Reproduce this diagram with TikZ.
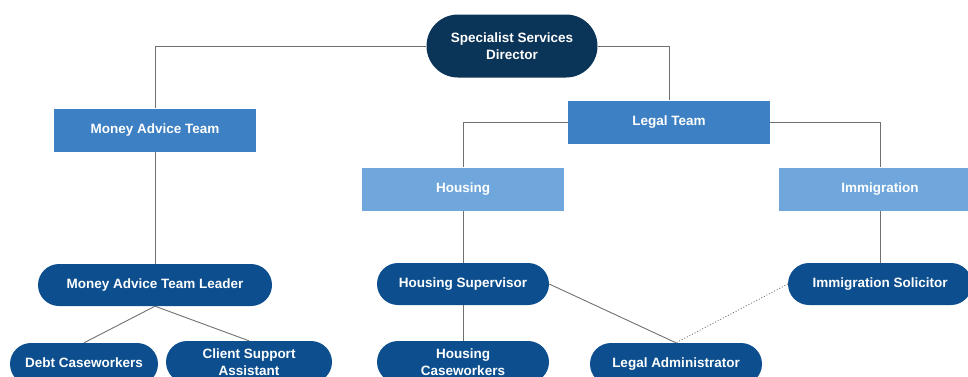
\documentclass[tikz,border=0pt]{standalone}
\usepackage{fontspec}
\setmainfont{Liberation Sans}
\usetikzlibrary{shapes.misc}
\definecolor{navy}{HTML}{0B3558}
\definecolor{pillblue}{HTML}{0D4F8E}
\definecolor{teamblue}{HTML}{3D80C3}
\definecolor{subblue}{HTML}{6FA7DC}
\definecolor{linegrey}{HTML}{707070}
\tikzset{
	boxtext/.style={text=white, font=\bfseries\fontsize{13.5}{16.5}\selectfont, align=center, inner sep=0pt},
	pill/.style={boxtext, rounded rectangle, fill=pillblue, minimum height=42pt},
	team/.style={boxtext, rectangle, fill=teamblue, minimum width=202pt, minimum height=43pt},
	sub/.style={boxtext, rectangle, fill=subblue, minimum width=202pt, minimum height=43pt},
	link/.style={draw=linegrey, line width=0.9pt}
}

\begin{document}
\begin{tikzpicture}[x=1pt, y=-1pt]
	%%%%% START %%%%%
	\useasboundingbox (0, 0) rectangle (968, 376);
	\clip (0, 0) rectangle (968, 376);
	
	\node[pill, fill=navy, minimum width=171pt, minimum height=63pt] (dir) at (512, 46) {Specialist Services\\Director};
	
	\node[team] (mat) at (155, 130) {Money Advice Team};
	\node[team] (legal) at (669, 122) {Legal Team};
	
	\node[sub] (hous) at (463, 189) {Housing};
	\node[sub] (imm) at (880, 189) {Immigration};
	
	\node[pill, minimum width=234pt] (matl) at (155, 285) {Money Advice Team Leader};
	\node[pill, minimum width=172pt] (hsup) at (463, 284) {Housing Supervisor};
	\node[pill, minimum width=184pt] (isol) at (880, 284) {Immigration Solicitor};
	
	\node[pill, minimum width=148pt] (debt) at (84, 364) {\raisebox{3pt}{Debt Caseworkers}};
	\node[pill, minimum width=166pt] (csa) at (249, 362) {Client Support\\Assistant};
	\node[pill, minimum width=172pt] (hcw) at (463, 362) {Housing\\Caseworkers};
	\node[pill, minimum width=172pt] (ladm) at (676, 364) {\raisebox{3pt}{Legal Administrator}};
	
	\draw[link] (dir.west) -| (mat.north);
	\draw[link] (dir.east) -| (legal.north);
	\draw[link] (legal.west) -| (hous.north);
	\draw[link] (legal.east) -| (imm.north);
	
	\draw[link] (mat.south) -- (matl.north);
	\draw[link] (matl.south) -- (debt.north);
	\draw[link] (matl.south) -- (csa.north);
	
	\draw[link] (hous.south) -- (hsup.north);
	\draw[link] (hsup.south) -- (hcw.north);
	\draw[link] (hsup.east) -- (ladm.north);
	
	\draw[link] (imm.south) -- (isol.north);
	\draw[link, dotted] (isol.west) -- (ladm.north);
	%%%%% END %%%%%
\end{tikzpicture}
\end{document}
